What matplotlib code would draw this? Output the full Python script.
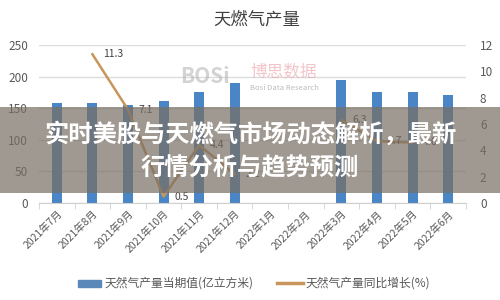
import numpy as np
import matplotlib
matplotlib.use('Agg')
import matplotlib.pyplot as plt
from matplotlib.patches import Rectangle

plt.rcParams['font.family'] = ['Noto Sans CJK SC', 'DejaVu Sans']

# data
months = ['2021年7月', '2021年8月', '2021年9月', '2021年10月', '2021年11月', '2021年12月',
          '2022年1月', '2022年2月', '2022年3月', '2022年4月', '2022年5月', '2022年6月']
output = [158, 158, 155, 162, 176, 190, np.nan, np.nan, 195, 175, 175, 171]
growth = [np.nan, 11.3, 7.1, 0.5, 4.4, 2.2, np.nan, np.nan, 6.3, 4.7, 4.6, np.nan]
growth_labels = ['', '11.3', '7.1', '0.5', '4.4', '2.2', '', '', '6.3', '4.7', '4.6', '']

BAR_C = '#4a86c5'
LINE_C = '#c8955a'
TXT_C = '#595959'

fig = plt.figure(figsize=(5, 3), dpi=100)
fig.patch.set_facecolor('white')
ax = fig.add_axes([0.078, 0.323, 0.854, 0.527])
x = np.arange(len(months))

ax.bar(x, output, width=0.28, color=BAR_C, zorder=2)
ax.set_ylim(0, 250)
ax.set_yticks(range(0, 251, 50))
ax.set_xlim(-0.5, len(months) - 0.5)
ax.grid(axis='y', color='#dcdcdc', linewidth=1, zorder=0)
ax.set_axisbelow(True)
for s in ['top', 'left', 'right']:
    ax.spines[s].set_visible(False)
ax.spines['bottom'].set_color('#d0d0d0')
ax.tick_params(axis='y', length=0, labelsize=8.5, labelcolor=TXT_C, pad=8)
ax.set_xticks(x)
ax.set_xticklabels(months, rotation=45, ha='right', rotation_mode='anchor',
                   fontsize=7.5, color=TXT_C)
ax.set_xticks(np.arange(-0.5, len(months), 1), minor=True)
ax.tick_params(axis='x', which='major', length=0, pad=4)
ax.tick_params(axis='x', which='minor', length=4, color='#d0d0d0')

ax2 = ax.twinx()
ax2.plot(x, growth, color=LINE_C, linewidth=1.8, zorder=3)
ax2.set_ylim(0, 12)
ax2.set_yticks(range(0, 13, 2))
for s in ax2.spines.values():
    s.set_visible(False)
ax2.tick_params(axis='y', length=0, labelsize=8.5, labelcolor=TXT_C, pad=10)
for xi, g, lab in zip(x, growth, growth_labels):
    if lab:
        ax2.text(xi + 0.3, g, lab, fontsize=7.5, color='#404040', va='center', ha='left')

# title
fig.text(0.514, 0.935, '天燃气产量', fontsize=12.5, color='#404040', ha='center', va='center')

# watermark
fig.text(0.36, 0.745, 'BOSi', fontsize=15, color='#b0b0b0', alpha=0.55,
         fontweight='bold', ha='left', va='center')
fig.text(0.50, 0.76, '博思数据', fontsize=12, color='#e8a0a8', alpha=0.6,
         ha='left', va='center')
fig.text(0.50, 0.705, 'Bosi Data Research', fontsize=5.5, color='#909090', alpha=0.6,
         ha='left', va='center')

# legend
fig.patches.append(Rectangle((0.156, 0.045), 0.046, 0.022, transform=fig.transFigure,
                             color='#5a88b8', figure=fig))
fig.text(0.21, 0.056, '天然气产量当期值(亿立方米)', fontsize=8.5, color=TXT_C, va='center')
fig.lines.append(plt.Line2D([0.554, 0.606], [0.056, 0.056], transform=fig.transFigure,
                            color=LINE_C, linewidth=2.5))
fig.text(0.612, 0.056, '天然气产量同比增长(%)', fontsize=8.5, color=TXT_C, va='center')

# banner over the chart
fig.patches.append(Rectangle((0, 0.357), 1, 0.286, transform=fig.transFigure,
                             facecolor=(0.47, 0.43, 0.39), alpha=0.7, zorder=5, figure=fig))
fig.text(0.5, 0.553, '实时美股与天燃气市场动态解析，最新', fontsize=17.5, color='white',
         fontweight='bold', ha='center', va='center', zorder=6)
fig.text(0.5, 0.437, '行情分析与趋势预测', fontsize=17.5, color='white',
         fontweight='bold', ha='center', va='center', zorder=6)

fig.savefig('out.png', dpi=100)
